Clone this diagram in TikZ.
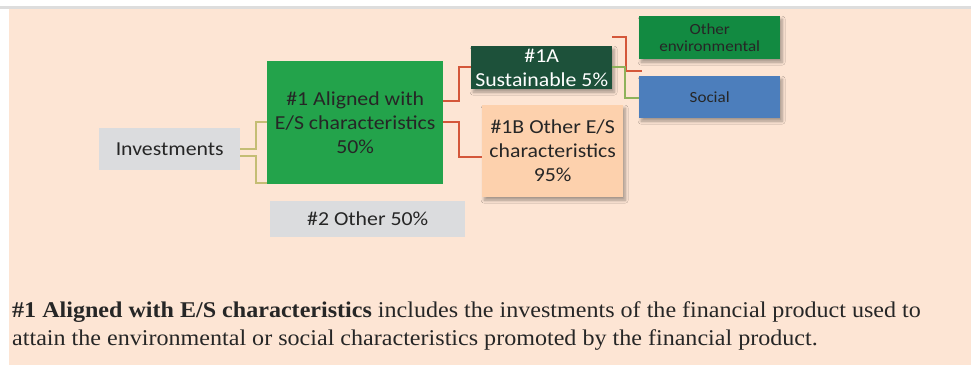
\documentclass[tikz,border=0pt]{standalone}
\usepackage{fontspec}
\setmainfont{Liberation Serif}[FakeStretch=1.07]
\newfontfamily\calfont{Carlito}[FakeStretch=1.1]
\usetikzlibrary{shadows,shadows.blur}
\definecolor{peach}{HTML}{FDE5D4}
\definecolor{topgray}{HTML}{DDDDDD}
\definecolor{boxgray}{HTML}{DBDCDE}
\definecolor{greenA}{HTML}{23A34B}
\definecolor{darkgreen}{HTML}{1D513A}
\definecolor{envgreen}{HTML}{128A41}
\definecolor{socblue}{HTML}{4C7EBC}
\definecolor{peachbox}{HTML}{FDD1AD}
\definecolor{txtdark}{HTML}{262626}
\definecolor{redline}{HTML}{D4573A}
\definecolor{khaki}{HTML}{C4BD74}
\definecolor{greenline}{HTML}{8EB25A}
\begin{document}
\begin{tikzpicture}[x=1pt,y=-1pt,
  box/.style={anchor=north west, inner sep=0pt, align=center, text=txtdark,
    font=\calfont\fontsize{19.8}{24}\selectfont},
  smallbox/.style={box, font=\calfont\fontsize{15.5}{17}\selectfont},
  shad/.style={blur shadow={shadow xshift=2pt, shadow yshift=-3pt, shadow blur steps=6, shadow blur radius=3pt, shadow opacity=35}},
  conn/.style={line width=1.4pt}
]
\useasboundingbox (0,0) rectangle (971,365);
\fill[white] (0,0) rectangle (971,365);
\fill[topgray] (0,6) rectangle (971,8.5);
\fill[peach] (9,9) rectangle (971,365);

\coordinate (bracketL) at (256,0);
\coordinate (bracketM) at (459,0);
\coordinate (redS) at (612,37);
\coordinate (redE) at (642,71);

% boxes
\node[box, fill=boxgray, minimum width=141pt, minimum height=42pt] (inv) at (99,128) {Investments};
\node[box, fill=greenA, minimum width=176pt, minimum height=123pt] (one) at (267,61) {\#1 Aligned with\\E/S characteristics\\50\%};
\node[box, fill=boxgray, minimum width=195pt, minimum height=36pt] (two) at (270,201) {\#2 Other 50\%};
\node[box, shad, fill=darkgreen, text=white, minimum width=141pt, minimum height=43pt] (oneA) at (471,46) {\#1A\\Sustainable 5\%};
\node[box, shad, fill=peachbox, minimum width=141pt, minimum height=92pt] (oneB) at (482,105) {\#1B Other E/S\\characteristics\\95\%};
\node[smallbox, shad, fill=envgreen, minimum width=141pt, minimum height=43pt] (env) at (639,16) {Other\\environmental};
\node[smallbox, shad, fill=socblue, minimum width=141pt, minimum height=42pt] (soc) at (639,76) {Social};

% connectors
\draw[conn, khaki] (inv.east |- 0,149) -- (bracketL |- 0,149) -- (bracketL |- 0,122) -- (one.west |- 0,122);
\draw[conn, khaki] (inv.east |- 0,156) -- (bracketL |- 0,156) -- (bracketL |- 0,183) -- (one.west |- 0,183);
\draw[conn, redline] (one.east |- 0,101) -- (bracketM |- 0,101) -- (bracketM |- 0,67) -- (oneA.west |- 0,67);
\draw[conn, redline] (one.east |- 0,122) -- (bracketM |- 0,122) -- (bracketM |- 0,157) -- (oneB.west |- 0,157);
\draw[conn, redline] (redS) -- (626,37) -- (626,71) -- (redE);
\draw[conn, greenline] (oneA.east |- 0,67) -- (625,67) -- (625,98) -- (soc.west |- 0,98);

% caption text
\node[anchor=base west, inner sep=0pt, text=txtdark, font=\fontsize{22.5}{28}\selectfont] (capA) at (12,317) {\textbf{\#1 Aligned with E/S characteristics} includes the investments of the financial product used to};
\node[anchor=base west, inner sep=0pt, text=txtdark, font=\fontsize{22.5}{28}\selectfont] (capB) at (12,345) {attain the environmental or social characteristics promoted by the financial product.};
\end{tikzpicture}
\end{document}
